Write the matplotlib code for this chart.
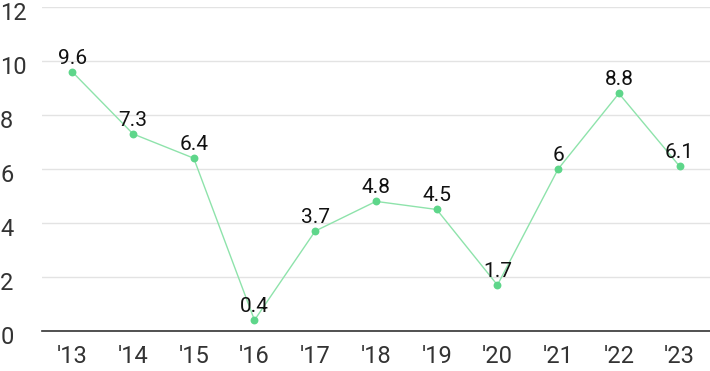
import matplotlib
matplotlib.use("Agg")
import matplotlib.pyplot as plt
import matplotlib.transforms as mtransforms

years = ["'13", "'14", "'15", "'16", "'17", "'18", "'19", "'20", "'21", "'22", "'23"]
values = [9.6, 7.3, 6.4, 0.4, 3.7, 4.8, 4.5, 1.7, 6, 8.8, 6.1]
labels = ["9.6", "7.3", "6.4", "0.4", "3.7", "4.8", "4.5", "1.7", "6", "8.8", "6.1"]

plt.rcParams['font.family'] = ['Roboto', 'DejaVu Sans']

fig = plt.figure(figsize=(7.1, 3.71), dpi=100)
ax = fig.add_axes([0.059, 0.108, 0.941, 0.873])

x = list(range(len(years)))
ax.plot(x, values, color='#8ee3ab', linewidth=1, zorder=2)
ax.scatter(x, values, s=32, color='#5ed68a', zorder=3, linewidths=0)
for xi, v, lab in zip(x, values, labels):
    ax.annotate(lab, (xi, v), xytext=(0, 3), textcoords='offset points',
                ha='center', va='bottom', fontsize=15, color='#111111', zorder=4)

ax.set_xlim(-0.5, 10.5)
ax.set_ylim(0, 12)
ax.set_yticks(range(0, 13, 2))
ax.set_xticks(x)
ax.set_xticklabels(years)
ax.tick_params(axis='both', length=0, labelsize=17, colors='#333333')
ax.tick_params(axis='x', pad=10)
ax.tick_params(axis='y', pad=30)
# y labels sit a little below their grid lines
shift = mtransforms.ScaledTranslation(0, -3 / 72, fig.dpi_scale_trans)
for lab in ax.get_yticklabels():
    lab.set_horizontalalignment('left')
    lab.set_transform(lab.get_transform() + shift)
ax.grid(axis='y', color='#e3e3e3', linewidth=1)
ax.set_axisbelow(True)
for s in ['top', 'right', 'left']:
    ax.spines[s].set_visible(False)
ax.spines['bottom'].set_color('#333333')
ax.spines['bottom'].set_linewidth(1.2)

fig.savefig('out.png', dpi=100)
